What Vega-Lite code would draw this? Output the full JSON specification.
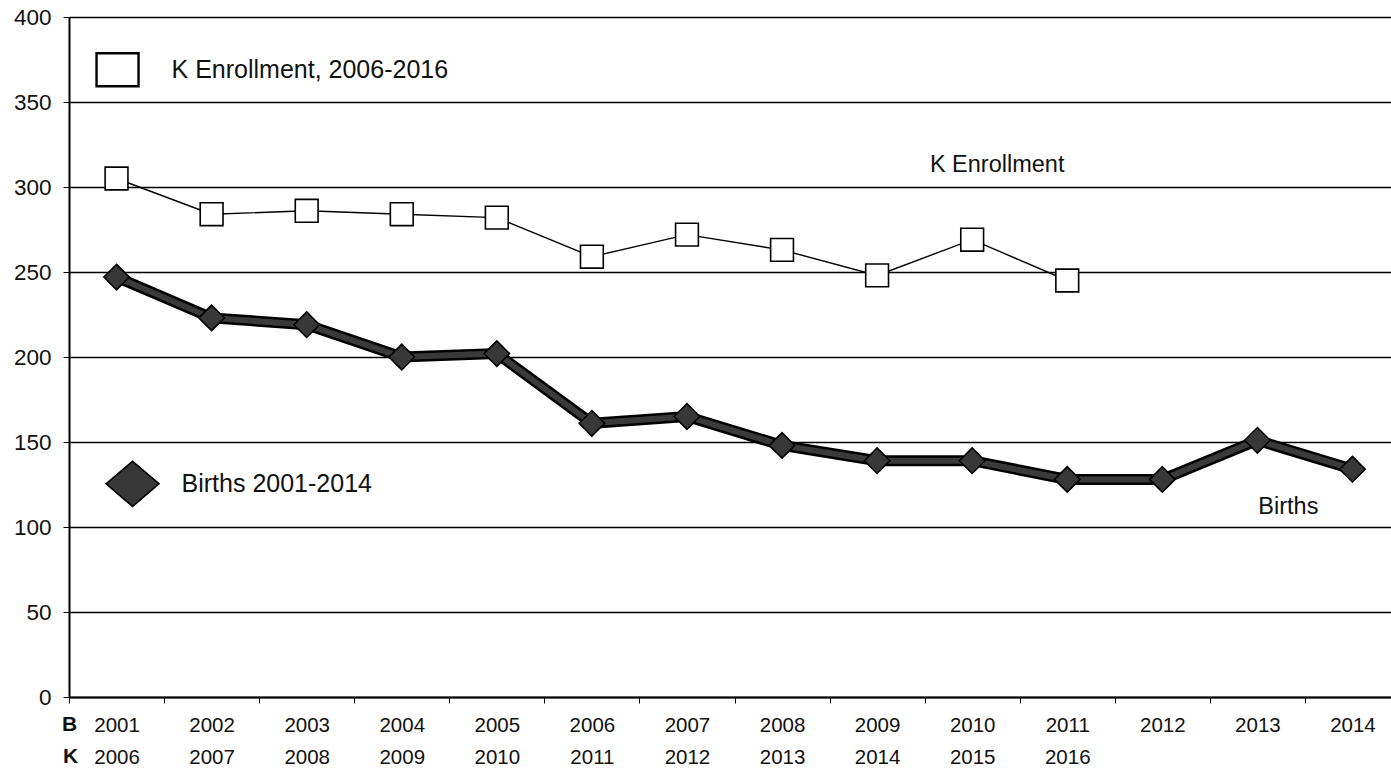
{
  "$schema": "https://vega.github.io/schema/vega-lite/v6.json",
  "autosize": "none",
  "width": 1331,
  "height": 680,
  "padding": {"left": 69, "top": 17, "right": -9, "bottom": 72},
  "background": "white",
  "config": {
    "view": {"stroke": null},
    "font": "Liberation Sans",
    "text": {"font": "Liberation Sans"}
  },
  "data": {
    "values": [
      {"year": "2001", "births": 247, "k": 305},
      {"year": "2002", "births": 223, "k": 284},
      {"year": "2003", "births": 219, "k": 286},
      {"year": "2004", "births": 200, "k": 284},
      {"year": "2005", "births": 202, "k": 282},
      {"year": "2006", "births": 161, "k": 259},
      {"year": "2007", "births": 165, "k": 272},
      {"year": "2008", "births": 148, "k": 263},
      {"year": "2009", "births": 139, "k": 248},
      {"year": "2010", "births": 139, "k": 269},
      {"year": "2011", "births": 128, "k": 245},
      {"year": "2012", "births": 128, "k": null},
      {"year": "2013", "births": 151, "k": null},
      {"year": "2014", "births": 134, "k": null}
    ]
  },
  "encoding": {
    "x": {
      "field": "year",
      "type": "ordinal",
      "sort": null,
      "scale": {"type": "band", "paddingInner": 0, "paddingOuter": 0},
      "axis": {
        "title": null,
        "labelAngle": 0,
        "labelExpr": "{'2001':['2001','2006'],'2002':['2002','2007'],'2003':['2003','2008'],'2004':['2004','2009'],'2005':['2005','2010'],'2006':['2006','2011'],'2007':['2007','2012'],'2008':['2008','2013'],'2009':['2009','2014'],'2010':['2010','2015'],'2011':['2011','2016'],'2012':['2012',''],'2013':['2013',''],'2014':['2014','']}[datum.value]",
        "labelFontSize": 20.5,
        "labelColor": "#111",
        "labelLineHeight": 32,
        "labelPadding": 12,
        "labelBaseline": "top",
        "tickBand": "extent",
        "tickSize": 6,
        "tickColor": "black",
        "tickWidth": 1,
        "domainColor": "black",
        "domainWidth": 2,
        "grid": false
      }
    }
  },
  "layer": [
    {
      "mark": {"type": "rule", "opacity": 0},
      "encoding": {
        "y": {
          "datum": 0,
          "type": "quantitative",
          "scale": {"domain": [0, 400], "nice": false},
          "axis": {
            "title": null,
            "values": [0, 50, 100, 150, 200, 250, 300, 350, 400],
            "labelFontSize": 22.5,
            "labelColor": "#111",
            "labelPadding": 12,
            "tickSize": 6,
            "tickColor": "black",
            "domainColor": "black",
            "domainWidth": 2,
            "grid": true,
            "gridColor": "black",
            "gridWidth": 1.3,
            "gridOpacity": 1
          }
        }
      }
    },
    {
      "transform": [{"filter": "datum.k != null"}],
      "mark": {"type": "line", "color": "black", "strokeWidth": 1.4},
      "encoding": {"y": {"field": "k", "type": "quantitative"}}
    },
    {
      "transform": [{"filter": "datum.k != null"}],
      "mark": {"type": "point", "shape": "square", "size": 520, "filled": true, "fill": "white", "stroke": "black", "strokeWidth": 1.6, "opacity": 1},
      "encoding": {"y": {"field": "k", "type": "quantitative"}}
    },
    {
      "mark": {"type": "line", "color": "#000", "strokeWidth": 11},
      "encoding": {"y": {"field": "births", "type": "quantitative"}}
    },
    {
      "mark": {"type": "line", "color": "#3a3a3a", "strokeWidth": 6},
      "encoding": {"y": {"field": "births", "type": "quantitative"}}
    },
    {
      "mark": {"type": "point", "shape": "diamond", "size": 650, "filled": true, "fill": "#383838", "stroke": "#000", "strokeWidth": 1.6, "opacity": 1},
      "encoding": {"y": {"field": "births", "type": "quantitative"}}
    },
    {
      "data": {"values": [{"label": "K Enrollment"}]},
      "mark": {"type": "text", "fontSize": 23.5, "color": "#111", "dx": 25},
      "encoding": {
        "x": {"datum": "2010", "type": "ordinal"},
        "y": {"datum": 313, "type": "quantitative"},
        "text": {"field": "label"}
      }
    },
    {
      "data": {"values": [{"label": "Births"}]},
      "mark": {"type": "text", "fontSize": 23.5, "color": "#111", "dx": 31},
      "encoding": {
        "x": {"datum": "2013", "type": "ordinal"},
        "y": {"datum": 112, "type": "quantitative"},
        "text": {"field": "label"}
      }
    },
    {
      "data": {"values": [{"label": "B"}]},
      "mark": {"type": "text", "fontSize": 21, "fontWeight": "bold", "color": "#111", "dx": -47, "baseline": "middle"},
      "encoding": {
        "x": {"datum": "2001", "type": "ordinal"},
        "y": {"datum": -16.5, "type": "quantitative"},
        "text": {"field": "label"}
      }
    },
    {
      "data": {"values": [{"label": "K"}]},
      "mark": {"type": "text", "fontSize": 21, "fontWeight": "bold", "color": "#111", "dx": -46, "baseline": "middle"},
      "encoding": {
        "x": {"datum": "2001", "type": "ordinal"},
        "y": {"datum": -35.3, "type": "quantitative"},
        "text": {"field": "label"}
      }
    },
    {
      "data": {"values": [{"label": "K Enrollment, 2006-2016"}]},
      "layer": [
        {
          "mark": {"type": "point", "shape": "M-1,-0.786L1,-0.786L1,0.786L-1,0.786Z", "size": 1764, "filled": true, "fill": "white", "stroke": "black", "strokeWidth": 2.4, "opacity": 1, "xOffset": 1}
        },
        {
          "mark": {"type": "text", "fontSize": 25, "color": "#111", "align": "left", "dx": 55},
          "encoding": {"text": {"field": "label"}}
        }
      ],
      "encoding": {
        "x": {"datum": "2001", "type": "ordinal"},
        "y": {"datum": 369, "type": "quantitative"}
      }
    },
    {
      "data": {"values": [{"label": "Births 2001-2014"}]},
      "layer": [
        {
          "mark": {"type": "point", "shape": "M-1,0L0,-0.85L1,0L0,0.85Z", "size": 2809, "filled": true, "fill": "#383838", "stroke": "#000", "strokeWidth": 1.6, "opacity": 1, "xOffset": 16}
        },
        {
          "mark": {"type": "text", "fontSize": 25, "color": "#111", "align": "left", "dx": 65},
          "encoding": {"text": {"field": "label"}}
        }
      ],
      "encoding": {
        "x": {"datum": "2001", "type": "ordinal"},
        "y": {"datum": 125.4, "type": "quantitative"}
      }
    }
  ]
}
